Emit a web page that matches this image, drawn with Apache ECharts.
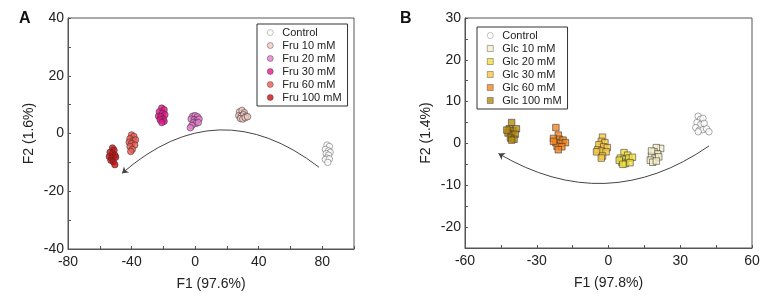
<!DOCTYPE html>
<html>
<head>
<meta charset="utf-8">
<script src="https://cdn.jsdelivr.net/npm/echarts@6/dist/echarts.min.js"></script>
<style>
  html, body { margin: 0; padding: 0; background: #fff; }
  #chart { width: 765px; height: 298px; }
</style>
</head>
<body>
<div id="chart"></div>
<script>
// panel A - fructose
const fruNames = ['Control', 'Fru 10 mM', 'Fru 20 mM', 'Fru 30 mM', 'Fru 60 mM', 'Fru 100 mM'];
const fruControl = [[83, -4], [84.5, -4.5], [82, -5.5], [84, -6], [85, -6.5], [82.5, -7], [84, -7.5], [83, -8.5], [82, -9], [84.5, -8.8], [83.5, -10]];
const fru10 = [[28, 7.5], [29.5, 8], [31, 7.2], [27.5, 6.2], [29, 6], [30.5, 6.5], [32, 6], [28.5, 5.2], [30, 5], [31.5, 5.5], [33, 5.8]];
const fru20 = [[-1.5, 6], [0, 6.2], [1.5, 5.8], [-2.5, 5], [-0.5, 4.8], [1, 4.5], [2.5, 5], [-1, 3.8], [0.5, 3.5], [2, 3.8], [-2, 2.8], [-3, 2]];
const fru30 = [[-21, 8.8], [-19.5, 8.2], [-22.5, 7.5], [-20.5, 7], [-19, 6.5], [-23, 6], [-21.5, 5.8], [-20, 5], [-22, 4.8], [-19.5, 4.2], [-21, 3.8]];
const fru60 = [[-40, -0.5], [-38.5, -1], [-41, -1.8], [-39, -2.5], [-37.5, -2.2], [-41.5, -3], [-40, -3.5], [-38, -4], [-41, -4.5], [-39.5, -5.5], [-40.5, -6.2]];
const fru100 = [[-52, -5], [-51, -5.8], [-53.5, -6.5], [-52, -7], [-50.5, -7.5], [-54, -8], [-52.5, -8.5], [-50, -8.2], [-53, -9.3], [-51.5, -9.8], [-50.5, -10.8]];
const fruArrow = [[78, -11.7], [-46, -13.8]];

// panel B - glucose
const glcNames = ['Control', 'Glc 10 mM', 'Glc 20 mM', 'Glc 30 mM', 'Glc 60 mM', 'Glc 100 mM'];
const glcControl = [[37.5, 6.5], [38.5, 5.8], [39.5, 6], [37, 5], [38.5, 4.5], [40, 4.8], [36.5, 3.8], [38, 3.2], [39.5, 3.3], [41, 3.5], [42, 2.8], [37.5, 2.8]];
const glc10 = [[21.8, -1.2], [20, -1], [19, -2], [20.5, -2.5], [18, -3], [19.5, -3.5], [21, -3.2], [17.5, -4], [18.5, -4.5], [20, -4.2], [18, -1.8]];
const glc20 = [[6.5, -2.2], [8, -2.8], [5, -3.5], [6.5, -3.8], [8.5, -3.5], [10, -3.3], [5.5, -4.5], [7, -4.8], [9, -4.6], [4.5, -4], [6, -5]];
const glc30 = [[-2.5, 1.5], [-3, 0.5], [-1.5, 0.2], [-4, -0.3], [-2, -0.8], [-0.5, -1], [-4.5, -1.5], [-3, -1.8], [-1, -2], [-5, -2], [-2.5, -3], [-3, -3.5]];
const glc60 = [[-22, 3.8], [-21, 2], [-23, 1.2], [-20.5, 1], [-19, 0.8], [-22, 0.2], [-20, 0], [-18, 0.2], [-21.5, -0.7], [-19.5, -0.8], [-21, -1.5], [-23, 0.5]];
const glc100 = [[-40.5, 5], [-41.5, 3.5], [-40, 3], [-38.5, 3.5], [-42, 2.5], [-40.5, 2], [-39, 2.2], [-41, 1.3], [-39.5, 1], [-40.5, 0.8], [-42.5, 3.2]];
const glcArrow = [[42, -0.6], [-46, -2.4]];

const fruColors = ['#ffffff', '#f5c8c0', '#e87ad0', '#e8168c', '#f05a50', '#c81010'];
const glcColors = ['#ffffff', '#f8f0c8', '#f0e040', '#f8c840', '#f5841e', '#b88a10'];

const textColor = '#222';
const axisColor = '#555';

function axis (gridIndex, min, max, interval, step, name, gap, isY) {
  return {
    type: 'value',
    gridIndex: gridIndex,
    min: min,
    max: max,
    interval: interval,
    name: name,
    nameLocation: 'middle',
    nameGap: gap,
    nameTextStyle: { fontSize: 14, color: textColor, fontFamily: 'Liberation Sans, Arial' },
    axisLine: { onZero: false, lineStyle: { color: axisColor, width: 1 } },
    axisTick: { inside: true, length: 3, lineStyle: { color: axisColor } },
    axisLabel: {
      fontSize: 14,
      color: textColor,
      fontFamily: 'Liberation Sans, Arial',
      margin: isY ? 4 : 6,
      showMaxLabel: true,
      formatter: v => (Math.round(v) % step === 0 && v <= (isY ? max : 80) ? String(v) : '')
    },
    splitLine: { show: false }
  };
}

function scatter (name, data, color, symbol, xi) {
  return {
    name: name,
    type: 'scatter',
    xAxisIndex: xi,
    yAxisIndex: xi,
    data: data,
    symbol: symbol,
    symbolSize: 6.5,
    itemStyle: {
      color: color,
      borderColor: name === 'Control' ? '#666' : '#333',
      borderWidth: 0.7
    }
  };
}

function arrow (data, xi, curveness) {
  return {
    type: 'lines',
    coordinateSystem: 'cartesian2d',
    xAxisIndex: xi,
    yAxisIndex: xi,
    symbol: ['none', 'arrow'],
    symbolSize: 6,
    silent: true,
    lineStyle: { color: '#444', width: 1, curveness: curveness, opacity: 1 },
    data: [{ coords: data }]
  };
}

const fruData = [fruControl, fru10, fru20, fru30, fru60, fru100];
const glcData = [glcControl, glc10, glc20, glc30, glc60, glc100];

const series = [];
fruNames.forEach((n, i) => series.push(scatter(n, fruData[i], fruColors[i], 'circle', 0)));
glcNames.forEach((n, i) => series.push(scatter(n, glcData[i], glcColors[i], i === 0 ? 'circle' : 'rect', 1)));
series.push(arrow(fruArrow, 0, -0.41));
series.push(arrow(glcArrow, 1, 0.32));

const legendBase = {
  orient: 'vertical',
  borderColor: '#333',
  borderWidth: 1,
  padding: [3, 6, 3, 10],
  itemGap: 2,
  itemWidth: 6,
  itemHeight: 6,
  itemStyle: { borderWidth: 0.5 },
  textStyle: { fontSize: 11, color: textColor, fontFamily: 'Liberation Sans, Arial', padding: [0, 0, 0, 4] }
};

const chart = echarts.init(document.getElementById('chart'));
chart.setOption({
  animation: false,
  title: [
    { text: 'A', left: 14, top: 6, textStyle: { fontSize: 16, fontWeight: 'bold', color: '#111' } },
    { text: 'B', left: 395, top: 6, textStyle: { fontSize: 16, fontWeight: 'bold', color: '#111' } }
  ],
  grid: [
    { left: 68, top: 18, width: 286, height: 231, show: true, borderColor: axisColor, borderWidth: 1 },
    { left: 465, top: 18, width: 287, height: 230, show: true, borderColor: axisColor, borderWidth: 1 }
  ],
  xAxis: [
    axis(0, -80, 100, 20, 40, 'F1 (97.6%)', 28, false),
    axis(1, -60, 60, 15, 30, 'F1 (97.8%)', 28, false)
  ],
  yAxis: [
    axis(0, -40, 40, 10, 20, 'F2 (1.6%)', 32, true),
    axis(1, -25, 30, 5, 10, 'F2 (1.4%)', 32, true)
  ],
  legend: [
    Object.assign({}, legendBase, { left: 257, top: 24, data: fruNames.map(n => ({ name: n })) }),
    Object.assign({}, legendBase, { left: 477, top: 27, data: glcNames.map(n => ({ name: n })) })
  ],
  series: series
});
</script>
</body>
</html>
